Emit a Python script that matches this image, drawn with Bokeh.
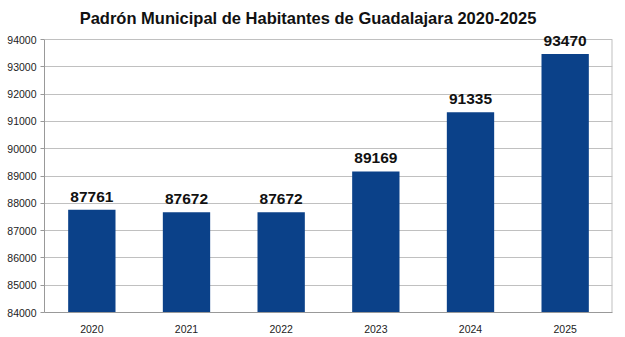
from bokeh.plotting import figure
from bokeh.models import ColumnDataSource, Label, FixedTicker, Range1d, NumeralTickFormatter
from bokeh.embed import file_html
from bokeh.resources import INLINE

title = "Padrón Municipal de Habitantes de Guadalajara 2020-2025"
years = ["2020", "2021", "2022", "2023", "2024", "2025"]
population = [87761, 87672, 87672, 89169, 91335, 93470]
labels = [str(v) for v in population]
y_ticks = [84000, 85000, 86000, 87000, 88000, 89000, 90000, 91000, 92000, 93000, 94000]
y_min, y_max = 84000, 94000

# layout (pixels)
W, H = 625, 337
left, right, bottom = 44, 13, 25
axis_top_px = 39          # where y_max sits from the top of the canvas
frame_h = H - bottom
ppu = (frame_h - axis_top_px) / (y_max - y_min)
y_end = y_min + frame_h / ppu

src = ColumnDataSource(dict(year=years, pop=population, lab=labels))

p = figure(x_range=years, y_range=Range1d(y_min, y_end), width=W, height=H,
           output_backend="svg", toolbar_location=None,
           min_border_left=left, min_border_right=right, min_border_top=0,
           min_border_bottom=bottom)

p.vbar(x="year", top="pop", bottom=y_min, width=0.5, source=src,
       fill_color="#0B4189", line_color=None)

# right border of plot area
p.segment(x0=[len(years)], y0=[y_min], x1=[len(years)], y1=[y_max],
          line_color="#C0C0C0", line_width=2)

for i, (v, lab) in enumerate(zip(population, labels)):
    p.add_layout(Label(x=i + 0.5, y=v, text=lab, y_offset=8,
                       text_align="center", text_baseline="bottom",
                       text_font="Liberation Sans", text_font_size="15.5px",
                       text_font_style="bold", text_color="#111111"))

# title (placed inside the extended frame area)
frame_w = W - left - right
title_cx, title_cy = 307.5, 17
p.add_layout(Label(x=(title_cx - left) / frame_w * len(years),
                   y=y_min + (frame_h - title_cy) / ppu, text=title,
                   text_align="center", text_baseline="middle",
                   text_font="Liberation Sans", text_font_size="16.5px",
                   text_font_style="bold", text_color="#111111"))

p.yaxis.ticker = FixedTicker(ticks=y_ticks)
p.yaxis.bounds = (y_min, y_max)
p.yaxis.formatter = NumeralTickFormatter(format="0")
p.yaxis.major_label_text_font = "Liberation Sans"
p.yaxis.major_label_text_font_size = "10.5px"
p.yaxis.major_label_text_color = "#222222"
p.yaxis.axis_line_color = "#999999"
p.yaxis.major_tick_line_color = "#999999"
p.yaxis.major_tick_in = 0
p.yaxis.major_tick_out = 4
p.yaxis.minor_tick_line_color = None
p.yaxis.major_label_standoff = 4

p.xaxis.major_label_text_font = "Liberation Sans"
p.xaxis.major_label_text_font_size = "10.5px"
p.xaxis.major_label_text_color = "#222222"
p.xaxis.axis_line_color = "#999999"
p.xaxis.major_tick_line_color = None
p.xaxis.major_label_standoff = 6

p.xgrid.grid_line_color = None
p.ygrid.grid_line_color = "#C0C0C0"
p.outline_line_color = None
p.background_fill_color = "white"
p.border_fill_color = "white"

open("out.html", "w").write(file_html(p, INLINE))
